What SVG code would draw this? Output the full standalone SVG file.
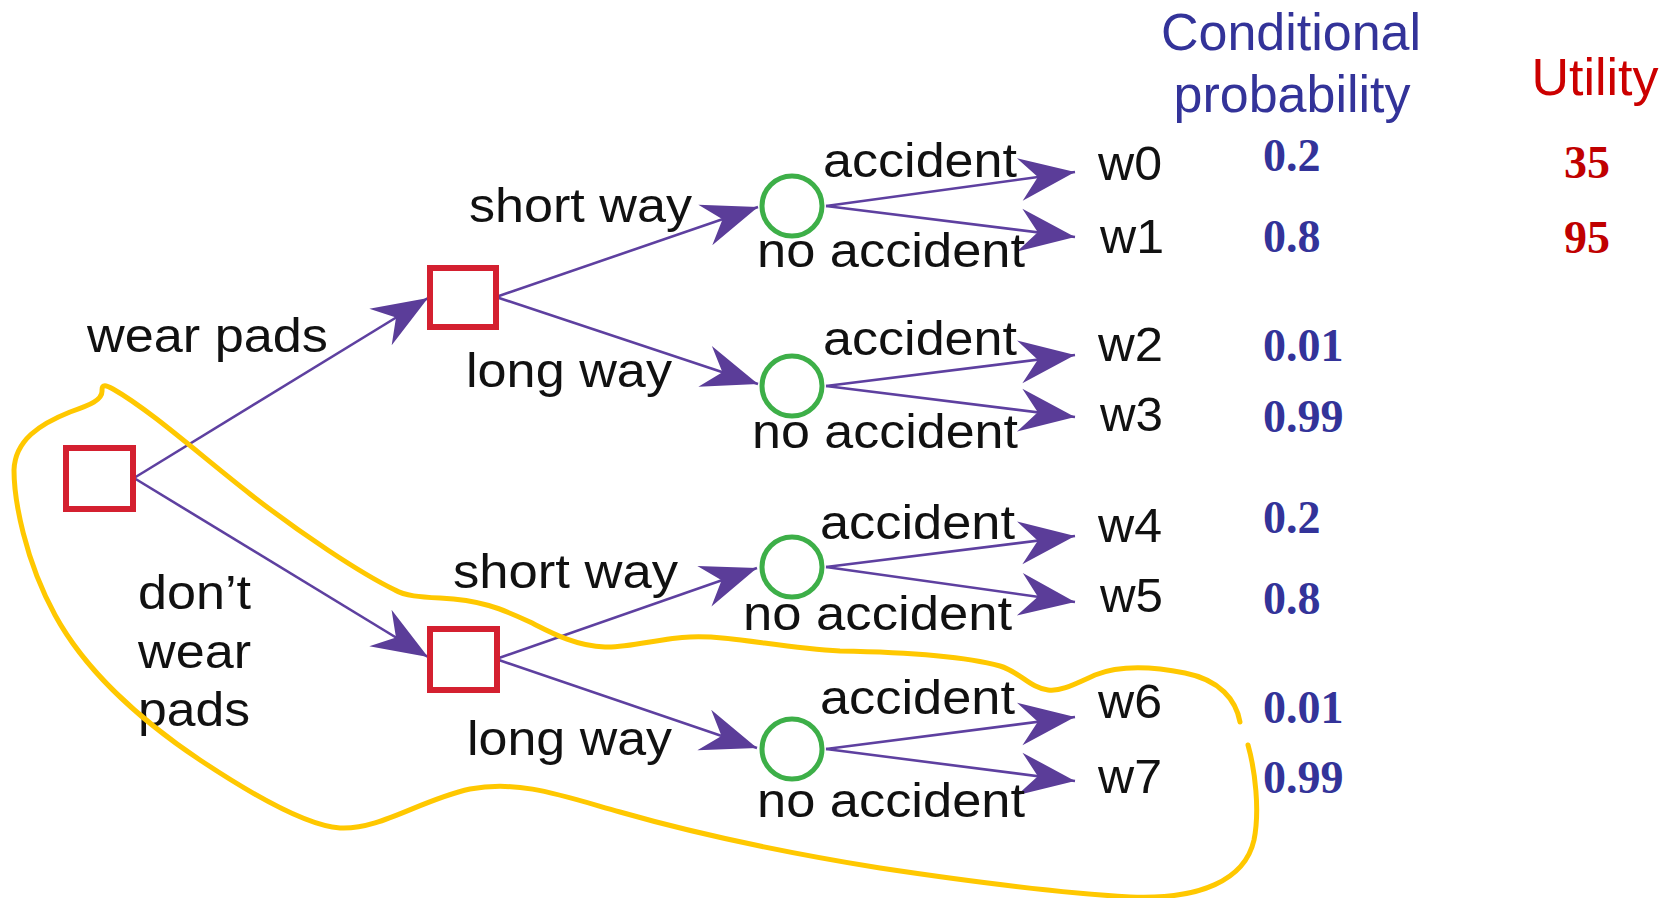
<svg xmlns="http://www.w3.org/2000/svg" width="1673" height="898" viewBox="0 0 1673 898">
<style>
.dec{fill:#fff;stroke:#d42030;stroke-width:6}
.ch{fill:#fff;stroke:#3daf48;stroke-width:5}
.edge{stroke:#5e40a0;stroke-width:2.6;fill:none;marker-end:url(#ah)}
.lbl{font-family:"Liberation Sans",Arial,sans-serif;font-size:48px;fill:#111}
.hdr{font-family:"Liberation Sans",Arial,sans-serif;font-size:52px}
.num{font-family:"Liberation Serif","Times New Roman",serif;font-size:46px;font-weight:bold}
.blue{fill:#333399}
.red{fill:#c00000}
.loop{fill:none;stroke:#ffc800;stroke-width:5;stroke-linecap:round;stroke-linejoin:round}
</style>
<defs>
<marker id="ah" markerUnits="userSpaceOnUse" orient="auto" markerWidth="60" markerHeight="50" viewBox="-54 -22 56 44" refX="0" refY="0">
<path d="M0,0 L-52,-20 L-35,0 L-52,20 Z" fill="#5b3d99"/>
</marker>
</defs>
<rect width="1673" height="898" fill="#fff"/>

<g id="connectors">
<line class="edge" x1="134" y1="478" x2="428" y2="298"/>
<line class="edge" x1="134" y1="478" x2="428" y2="657"/>
<line class="edge" x1="496" y1="297" x2="758" y2="207"/>
<line class="edge" x1="496" y1="297" x2="758" y2="384"/>
<line class="edge" x1="496" y1="659" x2="757" y2="568"/>
<line class="edge" x1="496" y1="659" x2="757" y2="748"/>
<line class="edge" x1="826" y1="206" x2="1075" y2="172"/>
<line class="edge" x1="826" y1="206" x2="1075" y2="237"/>
<line class="edge" x1="826" y1="386" x2="1075" y2="355"/>
<line class="edge" x1="826" y1="386" x2="1075" y2="417"/>
<line class="edge" x1="826" y1="567" x2="1075" y2="536"/>
<line class="edge" x1="826" y1="567" x2="1075" y2="602"/>
<line class="edge" x1="826" y1="749" x2="1075" y2="717"/>
<line class="edge" x1="826" y1="749" x2="1075" y2="781"/>
</g>

<g id="root"><rect class="dec" x="66" y="448" width="67" height="61"/></g>
<g id="wear-pads-node"><rect class="dec" x="430" y="268" width="66" height="59"/></g>
<g id="no-pads-node"><rect class="dec" x="430" y="629" width="67" height="61"/></g>
<g id="chance-1"><circle class="ch" cx="792" cy="206" r="30"/></g>
<g id="chance-2"><circle class="ch" cx="792" cy="386" r="30"/></g>
<g id="chance-3"><circle class="ch" cx="792" cy="567" r="30"/></g>
<g id="chance-4"><circle class="ch" cx="792" cy="749" r="30"/></g>

<g id="edge-labels">
<text class="lbl" x="87" y="352" textLength="241" lengthAdjust="spacingAndGlyphs">wear pads</text>
<text class="lbl" x="138" y="609" textLength="113" lengthAdjust="spacingAndGlyphs">don’t</text>
<text class="lbl" x="138" y="668" textLength="113" lengthAdjust="spacingAndGlyphs">wear</text>
<text class="lbl" x="138" y="726" textLength="112" lengthAdjust="spacingAndGlyphs">pads</text>
<text class="lbl" x="469" y="222" textLength="223" lengthAdjust="spacingAndGlyphs">short way</text>
<text class="lbl" x="466" y="387" textLength="206" lengthAdjust="spacingAndGlyphs">long way</text>
<text class="lbl" x="453" y="588" textLength="225" lengthAdjust="spacingAndGlyphs">short way</text>
<text class="lbl" x="467" y="755" textLength="205" lengthAdjust="spacingAndGlyphs">long way</text>
<text class="lbl" x="823" y="177" textLength="194" lengthAdjust="spacingAndGlyphs">accident</text>
<text class="lbl" x="757" y="267" textLength="268" lengthAdjust="spacingAndGlyphs">no accident</text>
<text class="lbl" x="823" y="355" textLength="194" lengthAdjust="spacingAndGlyphs">accident</text>
<text class="lbl" x="752" y="448" textLength="266" lengthAdjust="spacingAndGlyphs">no accident</text>
<text class="lbl" x="820" y="539" textLength="195" lengthAdjust="spacingAndGlyphs">accident</text>
<text class="lbl" x="743" y="630" textLength="269" lengthAdjust="spacingAndGlyphs">no accident</text>
<text class="lbl" x="820" y="714" textLength="195" lengthAdjust="spacingAndGlyphs">accident</text>
<text class="lbl" x="757" y="817" textLength="268" lengthAdjust="spacingAndGlyphs">no accident</text>
</g>

<g id="outcomes">
<text class="lbl" x="1098" y="180" textLength="64" lengthAdjust="spacingAndGlyphs">w0</text>
<text class="lbl" x="1100" y="253" textLength="64" lengthAdjust="spacingAndGlyphs">w1</text>
<text class="lbl" x="1098" y="361" textLength="65" lengthAdjust="spacingAndGlyphs">w2</text>
<text class="lbl" x="1100" y="431" textLength="63" lengthAdjust="spacingAndGlyphs">w3</text>
<text class="lbl" x="1098" y="542" textLength="64" lengthAdjust="spacingAndGlyphs">w4</text>
<text class="lbl" x="1100" y="612" textLength="63" lengthAdjust="spacingAndGlyphs">w5</text>
<text class="lbl" x="1098" y="718" textLength="64" lengthAdjust="spacingAndGlyphs">w6</text>
<text class="lbl" x="1098" y="793" textLength="64" lengthAdjust="spacingAndGlyphs">w7</text>
</g>

<g id="probabilities">
<text class="hdr blue" x="1291" y="50" text-anchor="middle">Conditional</text>
<text class="hdr blue" x="1292" y="112" text-anchor="middle">probability</text>
<text class="num blue" x="1263" y="171">0.2</text>
<text class="num blue" x="1263" y="252">0.8</text>
<text class="num blue" x="1263" y="361">0.01</text>
<text class="num blue" x="1263" y="432">0.99</text>
<text class="num blue" x="1263" y="533">0.2</text>
<text class="num blue" x="1263" y="614">0.8</text>
<text class="num blue" x="1263" y="723">0.01</text>
<text class="num blue" x="1263" y="793">0.99</text>
</g>

<g id="utilities">
<text class="hdr" x="1595" y="95" text-anchor="middle" fill="#cc0000">Utility</text>
<text class="num red" x="1564" y="178">35</text>
<text class="num red" x="1564" y="253">95</text>
</g>

<g id="highlight">
<path class="loop" d="M1240,722 C1236,700 1220,680 1185,673 C1150,666 1120,665 1095,675 C1075,684 1060,692 1048,690 C1030,688 1020,672 1000,666 C960,655 900,652 840,651 C780,648 730,635 690,637 C660,638 630,648 605,647 C575,646 550,632 530,622 C500,608 480,600 440,598 C420,597 405,596 395,590 C360,573 300,533 250,494 C200,455 150,410 113,389 C106,385 102,384 102,390 C103,400 90,405 70,412 C40,424 15,440 14,470 C14,500 25,560 55,615 C85,670 140,720 200,760 C260,800 310,826 340,828 C380,830 420,800 470,789 C520,780 560,795 620,812 C700,835 800,855 880,868 C960,880 1060,893 1130,897 C1200,900 1245,880 1254,840 C1260,810 1255,770 1248,745"/>
</g>
</svg>
